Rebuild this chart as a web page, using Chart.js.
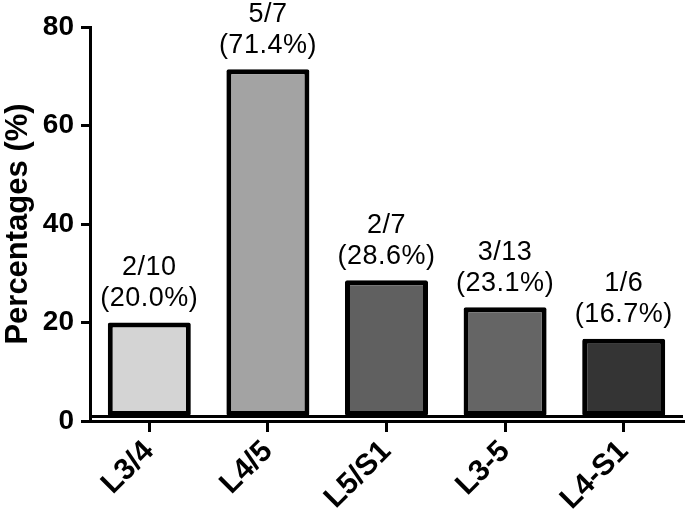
<!DOCTYPE html>
<html>
<head>
<meta charset="utf-8">
<script src="https://cdn.jsdelivr.net/npm/chart.js@4.4.1/dist/chart.umd.min.js"></script>
<style>
  html, body { margin: 0; padding: 0; background: #fff; }
  #wrap { width: 685px; height: 512px; }
</style>
</head>
<body>
<div id="wrap"><canvas id="barChart" width="685" height="512"></canvas></div>
<script>
// data
const categories = ['L3/4', 'L4/5', 'L5/S1', 'L3-5', 'L4-S1'];
const percentages = [20.0, 71.4, 28.6, 23.1, 16.7];
const fractions = ['2/10', '5/7', '2/7', '3/13', '1/6'];
const barColors = ['#d4d4d4', '#a3a3a3', '#606060', '#656565', '#343434'];

const FONT = '"Liberation Sans", Arial, Helvetica, sans-serif';

// two-line labels above each bar: "2/10" and "(20.0%)"
const barLabels = {
    id: 'barLabels',
    afterDatasetsDraw(chart) {
        const ctx = chart.ctx;
        const meta = chart.getDatasetMeta(0);
        ctx.save();
        ctx.fillStyle = '#000';
        ctx.font = '27px ' + FONT;
        ctx.textAlign = 'center';
        ctx.textBaseline = 'middle';
        if ('letterSpacing' in ctx) ctx.letterSpacing = '0.5px';
        meta.data.forEach((bar, i) => {
            const pct = '(' + percentages[i].toFixed(1) + '%)';
            ctx.fillText(fractions[i], bar.x, bar.y - 55);
            ctx.fillText(pct, bar.x, bar.y - 24);
        });
        ctx.restore();
    }
};

// the baseline the bars stand on, a little above the x axis line
const baseLine = {
    id: 'baseLine',
    afterDatasetsDraw(chart) {
        const ctx = chart.ctx;
        const area = chart.chartArea;
        const y = chart.scales.y.getPixelForValue(1) + 0.5;
        ctx.save();
        ctx.strokeStyle = '#000';
        ctx.lineWidth = 3;
        ctx.beginPath();
        ctx.moveTo(area.left, y);
        ctx.lineTo(area.right, y);
        ctx.stroke();
        ctx.restore();
    }
};

function renderChart() {
    const ctx = document.getElementById('barChart').getContext('2d');
    new Chart(ctx, {
        type: 'bar',
        data: {
            labels: categories,
            datasets: [{
                data: percentages,
                backgroundColor: barColors,
                borderColor: '#000',
                borderWidth: 5,
                borderSkipped: false,
                borderRadius: 2,
                base: 1,
                barPercentage: 0.7,
                categoryPercentage: 1
            }]
        },
        options: {
            responsive: false,
            animation: false,
            layout: { padding: { top: 27, right: 2, left: 0, bottom: 0 } },
            plugins: {
                legend: { display: false },
                tooltip: { enabled: false }
            },
            scales: {
                x: {
                    afterFit: scale => { scale.height = 91; },
                    grid: {
                        offset: false,
                        drawOnChartArea: false,
                        color: '#000',
                        lineWidth: 3,
                        tickLength: 11
                    },
                    border: { display: true, color: '#000', width: 3 },
                    ticks: {
                        color: '#000',
                        font: { family: FONT, size: 30, weight: 'bold' },
                        minRotation: 45,
                        maxRotation: 45,
                        padding: 2
                    }
                },
                y: {
                    min: 0,
                    max: 80,
                    afterFit: scale => { scale.width = 90; },
                    grid: {
                        drawOnChartArea: false,
                        color: '#000',
                        lineWidth: 3,
                        tickLength: 9
                    },
                    border: { display: true, color: '#000', width: 3 },
                    ticks: {
                        stepSize: 20,
                        color: '#000',
                        font: { family: FONT, size: 28, weight: 'bold' },
                        padding: 7
                    },
                    title: {
                        display: true,
                        text: 'Percentages (%)',
                        color: '#000',
                        font: { family: FONT, size: 31, weight: 'bold' },
                        padding: 0
                    }
                }
            }
        },
        plugins: [barLabels, baseLine]
    });
}

window.onload = renderChart;
</script>
</body>
</html>
